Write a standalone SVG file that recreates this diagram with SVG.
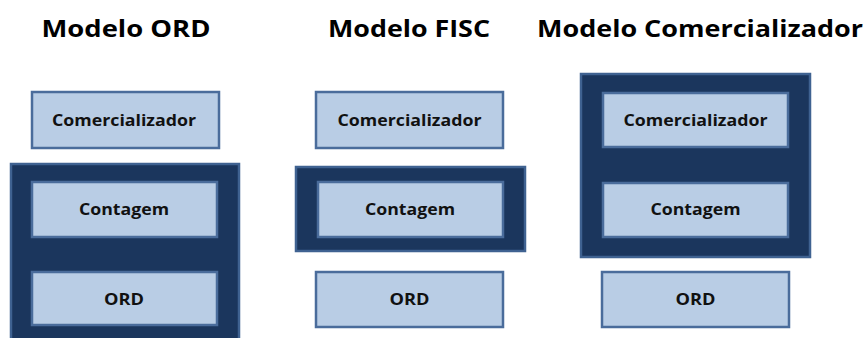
<svg xmlns="http://www.w3.org/2000/svg" width="867" height="338" viewBox="0 0 867 338">
<style>
.title{font-family:"Open Sans","Liberation Sans",sans-serif;font-weight:bold;font-size:24px;fill:#000;text-anchor:middle}
.lbl{font-family:"Open Sans","Liberation Sans",sans-serif;font-weight:bold;font-size:16px;fill:#111;text-anchor:middle}
.box{fill:#b9cde5;stroke:#4a6c9b;stroke-width:2.5}
.cont{fill:#1b365d;stroke:#3f6291;stroke-width:2.5}
</style>
<rect width="867" height="338" fill="#fff"/>
<g id="titles">
<text class="title" x="126" y="37" textLength="169" lengthAdjust="spacingAndGlyphs">Modelo ORD</text>
<text class="title" x="409" y="37" textLength="162" lengthAdjust="spacingAndGlyphs">Modelo FISC</text>
<text class="title" x="700" y="37" textLength="326" lengthAdjust="spacingAndGlyphs">Modelo Comercializador</text>
</g>
<g id="ord-container"><rect class="cont" x="11" y="164" width="228" height="180"/></g>
<g id="fisc-container"><rect class="cont" x="296" y="167" width="229" height="84"/></g>
<g id="com-container"><rect class="cont" x="581" y="74" width="229" height="183"/></g>
<g id="ord-comercializador"><rect class="box" x="32" y="92" width="187" height="56"/><text class="lbl" x="124" y="126" textLength="144" lengthAdjust="spacingAndGlyphs">Comercializador</text></g>
<g id="ord-contagem"><rect class="box" x="32" y="182" width="185" height="55"/><text class="lbl" x="124" y="215" textLength="90" lengthAdjust="spacingAndGlyphs">Contagem</text></g>
<g id="ord-ord"><rect class="box" x="32" y="272" width="185" height="53"/><text class="lbl" x="124" y="305" textLength="40" lengthAdjust="spacingAndGlyphs">ORD</text></g>
<g id="fisc-comercializador"><rect class="box" x="316" y="92" width="187" height="56"/><text class="lbl" x="409.5" y="126" textLength="144" lengthAdjust="spacingAndGlyphs">Comercializador</text></g>
<g id="fisc-contagem"><rect class="box" x="318" y="182" width="185" height="55"/><text class="lbl" x="410" y="215" textLength="90" lengthAdjust="spacingAndGlyphs">Contagem</text></g>
<g id="fisc-ord"><rect class="box" x="316" y="272" width="187" height="55"/><text class="lbl" x="409.5" y="305" textLength="40" lengthAdjust="spacingAndGlyphs">ORD</text></g>
<g id="com-comercializador"><rect class="box" x="603" y="93" width="185" height="54"/><text class="lbl" x="695.5" y="126" textLength="144" lengthAdjust="spacingAndGlyphs">Comercializador</text></g>
<g id="com-contagem"><rect class="box" x="603" y="183" width="185" height="54"/><text class="lbl" x="695.5" y="215" textLength="90" lengthAdjust="spacingAndGlyphs">Contagem</text></g>
<g id="com-ord"><rect class="box" x="602" y="272" width="187" height="55"/><text class="lbl" x="695.5" y="305" textLength="40" lengthAdjust="spacingAndGlyphs">ORD</text></g>
<g id="connectors"/>
</svg>
